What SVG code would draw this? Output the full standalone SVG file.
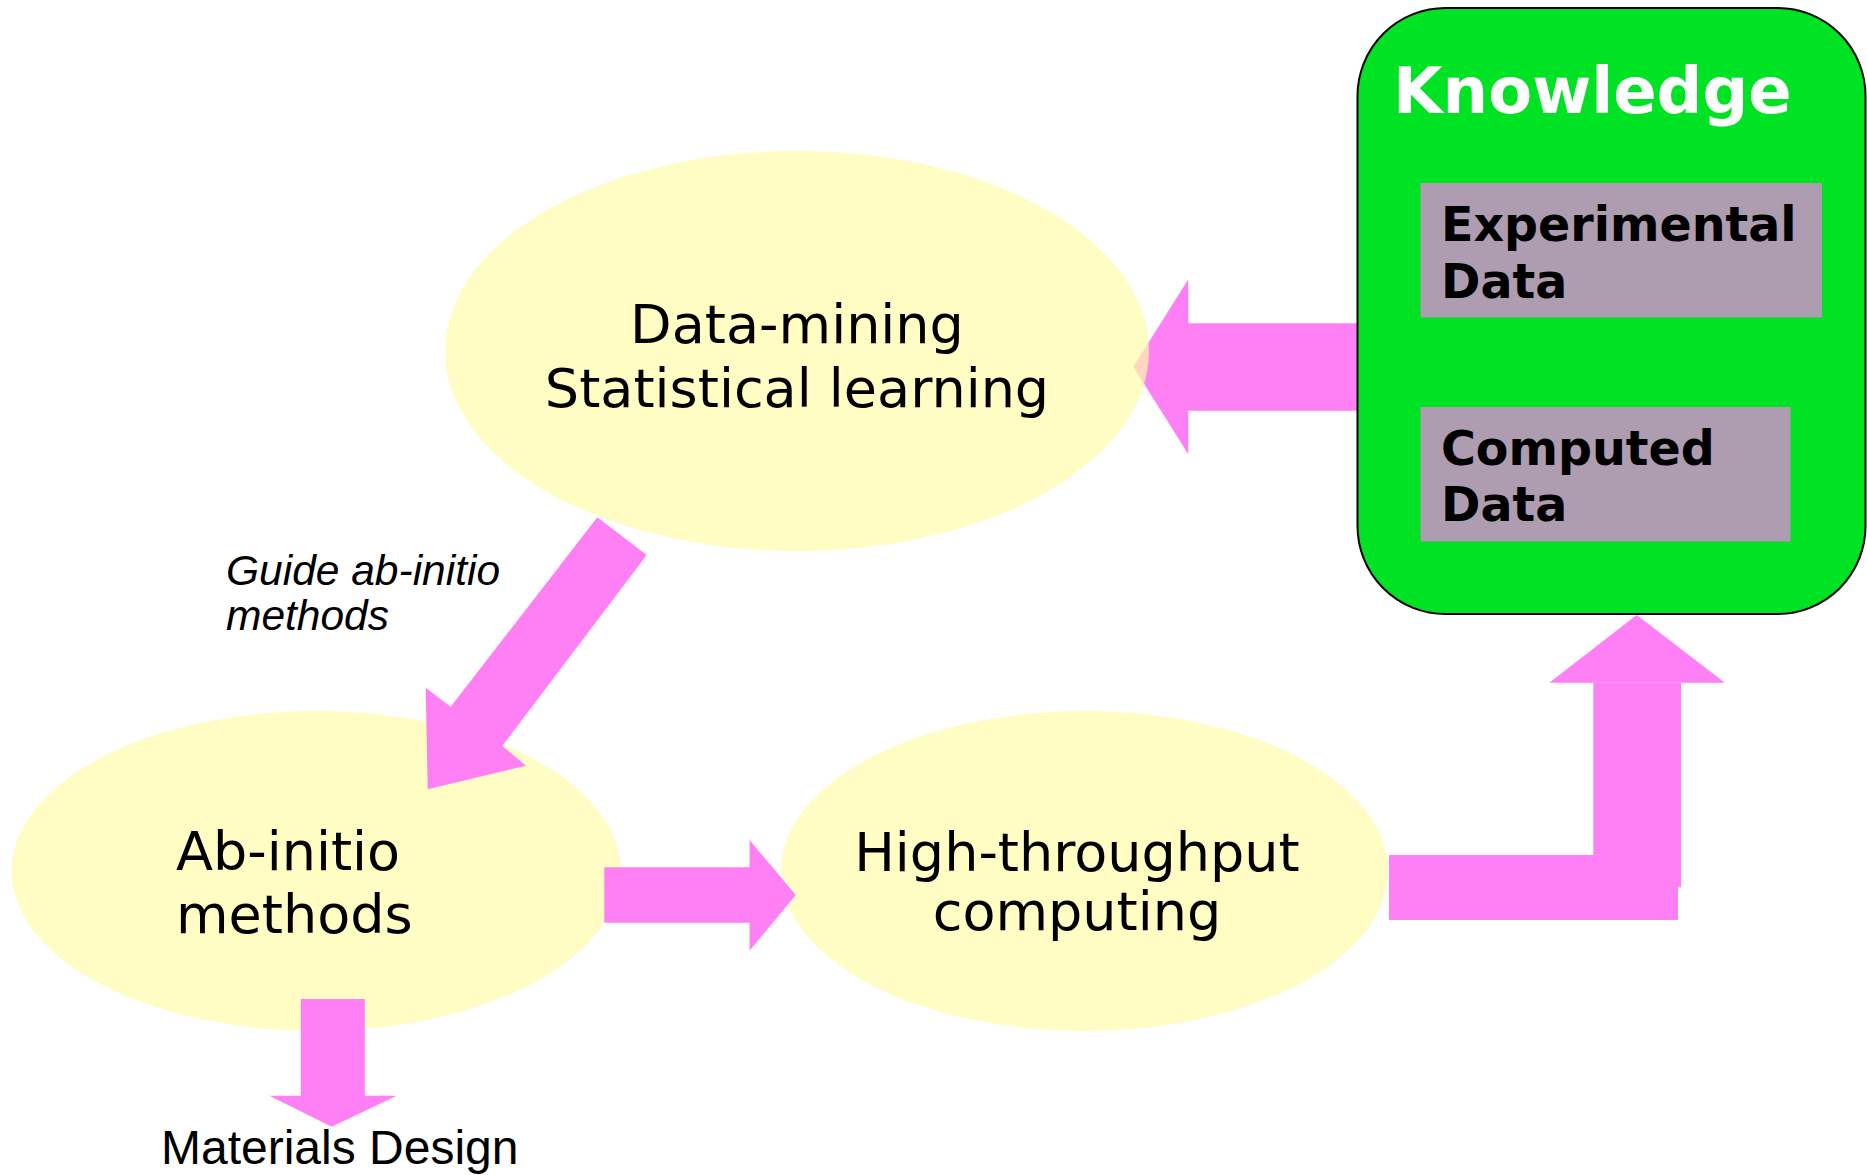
<svg xmlns="http://www.w3.org/2000/svg" width="1867" height="1175" viewBox="0 0 1867 1175">
<style>
.ell{fill:#FFFCC4}
.arr{fill:#FF80F4}
.lbl{font-family:"DejaVu Sans",Verdana,sans-serif;font-size:54px;fill:#000}
.bold{font-family:"DejaVu Sans",Verdana,sans-serif;font-weight:bold;fill:#000;font-size:47.5px}
.arial{font-family:"Liberation Sans",Arial,sans-serif;fill:#000}
.box{fill:#AE9CB0}
</style>
<rect width="1867" height="1175" fill="#FFFFFF"/>
<g id="connectors">
<polygon class="arr" points="1357,323.3 1188.3,323.3 1188.3,279.3 1133.3,366.7 1188.3,454.3 1188.3,410.7 1357,410.7"/>
</g>
<g id="data-mining">
<ellipse cx="797" cy="351" rx="352" ry="200" fill="#FFFBAC" fill-opacity="0.71"/>
<text class="lbl" x="797" y="342.5" text-anchor="middle">Data-mining</text>
<text class="lbl" x="797" y="406.5" text-anchor="middle">Statistical learning</text>
</g>
<g id="ab-initio">
<ellipse class="ell" cx="316" cy="871" rx="304.5" ry="160"/>
<text class="lbl" x="176" y="870">Ab-initio</text>
<text class="lbl" x="176" y="933">methods</text>
</g>
<g id="high-throughput">
<ellipse class="ell" cx="1084.5" cy="871" rx="303.5" ry="160"/>
<text class="lbl" x="1077" y="871" text-anchor="middle">High-throughput</text>
<text class="lbl" x="1077" y="930" text-anchor="middle">computing</text>
</g>
<g id="knowledge">
<rect x="1357.5" y="8" width="508" height="606" rx="88" ry="88" fill="#00E224" stroke="#000" stroke-width="2"/>
<text x="1393" y="113" font-family="DejaVu Sans, Verdana, sans-serif" font-weight="bold" font-size="64" fill="#FFFFFF">Knowledge</text>
<g id="experimental-data">
<rect class="box" x="1420.5" y="183" width="401.5" height="134.5"/>
<text class="bold" x="1441" y="240.5">Experimental</text>
<text class="bold" x="1441" y="298">Data</text>
</g>
<g id="computed-data">
<rect class="box" x="1420.5" y="407" width="370" height="134.5"/>
<text class="bold" x="1441" y="464.5">Computed</text>
<text class="bold" x="1441" y="521">Data</text>
</g>
</g>
<g id="connectors-front">
<polygon class="arr" points="597.3,517.3 646.7,555 502.3,746 526,765.7 427.7,789.3 425.7,687.7 450.7,706.7"/>
<polygon class="arr" points="604.3,867.3 749.6,867.3 749.6,840 795.7,895 749.6,950.7 749.6,922.7 604.3,922.7"/>
<polygon class="arr" points="300.8,999 364.8,999 364.8,1095.7 396.7,1095.7 331.7,1126.7 269.4,1095.7 300.8,1095.7"/>
<rect class="arr" x="1389" y="855" width="289" height="65"/>
<rect class="arr" x="1593.3" y="682.7" width="87.7" height="204.6"/>
<polygon class="arr" points="1549.3,682.7 1636.7,615 1725,682.7"/>
</g>
<g id="labels">
<text class="arial" x="226" y="585" font-size="42.5" font-style="italic">Guide ab-initio</text>
<text class="arial" x="226" y="630" font-size="42.5" font-style="italic">methods</text>
<text class="arial" x="161" y="1164" font-size="48">Materials Design</text>
</g>
</svg>
